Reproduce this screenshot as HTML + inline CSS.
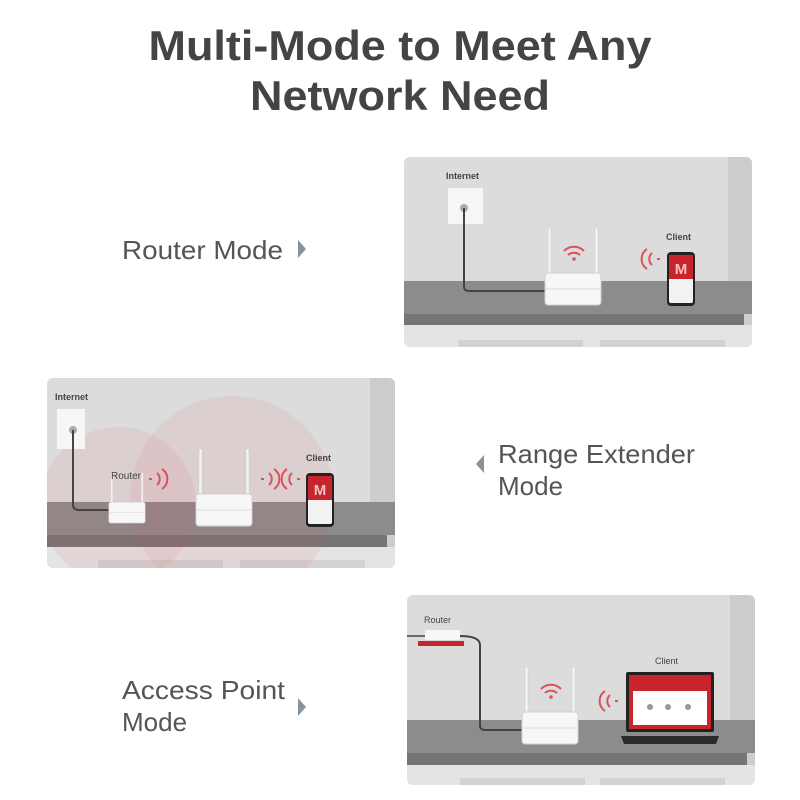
<!DOCTYPE html>
<html><head><style>
html,body{margin:0;padding:0;background:#fff;}
svg{display:block;}
text{font-family:"Liberation Sans",sans-serif;}
</style></head><body>
<svg width="800" height="800" viewBox="0 0 800 800" xmlns="http://www.w3.org/2000/svg">
<defs>
<g id="wifi">
 <path d="M-10,-3 A14,14 0 0 1 10,-3" fill="none" stroke="#d9535a" stroke-width="2"/>
 <path d="M-6,1 A9,9 0 0 1 6,1" fill="none" stroke="#d9535a" stroke-width="2"/>
 <circle cx="0" cy="5" r="1.8" fill="#d9535a"/>
</g>
<g id="waveL">
 <path d="M0,-10 A12,12 0 0 0 0,10" fill="none" stroke="#d9535a" stroke-width="2"/>
 <path d="M5,-6 A8,8 0 0 0 5,6" fill="none" stroke="#d9535a" stroke-width="2"/>
 <line x1="10" y1="0" x2="13" y2="0" stroke="#d9535a" stroke-width="2"/>
</g>
<g id="waveR">
 <path d="M0,-10 A12,12 0 0 1 0,10" fill="none" stroke="#d9535a" stroke-width="2"/>
 <path d="M-5,-6 A8,8 0 0 1 -5,6" fill="none" stroke="#d9535a" stroke-width="2"/>
 <line x1="-10" y1="0" x2="-13" y2="0" stroke="#d9535a" stroke-width="2"/>
</g>
<g id="router">
 <rect x="-25" y="-77" width="3" height="60" fill="#f4f4f4" stroke="#ccc" stroke-width="0.5"/>
 <rect x="22" y="-77" width="3" height="60" fill="#f4f4f4" stroke="#ccc" stroke-width="0.5"/>
 <rect x="-28" y="-32" width="56" height="32" rx="3" fill="#f7f7f7" stroke="#d0d0d0" stroke-width="1"/>
 <line x1="-28" y1="-16" x2="28" y2="-16" stroke="#ddd"/>
</g>
<g id="phone">
 <rect x="0" y="0" width="28" height="54" rx="4" fill="#222"/>
 <rect x="2" y="3" width="24" height="48" rx="2" fill="#f2f2f2"/>
 <rect x="2" y="3" width="24" height="24" fill="#c8242b"/>
 <text x="14" y="22" font-size="15" font-weight="bold" fill="#f5c0c0" text-anchor="middle">M</text>
</g>
</defs>

<text x="400" y="60" font-size="42" font-weight="bold" fill="#444" text-anchor="middle" textLength="503" lengthAdjust="spacingAndGlyphs">Multi-Mode to Meet Any</text>
<text x="400" y="110" font-size="42" font-weight="bold" fill="#444" text-anchor="middle" textLength="300" lengthAdjust="spacingAndGlyphs">Network Need</text>

<text x="122" y="259" font-size="26" fill="#555" textLength="161" lengthAdjust="spacingAndGlyphs">Router Mode</text>
<path d="M298,240 L306,249 L298,258 Z" fill="#8a9299"/>
<text x="498" y="463" font-size="26" fill="#555" textLength="197" lengthAdjust="spacingAndGlyphs">Range Extender</text>
<text x="498" y="495" font-size="26" fill="#555">Mode</text>
<path d="M484,455 L476,464 L484,473 Z" fill="#8a9299"/>
<text x="122" y="699" font-size="26" fill="#555" textLength="163" lengthAdjust="spacingAndGlyphs">Access Point</text>
<text x="122" y="731" font-size="26" fill="#555">Mode</text>
<path d="M298,698 L306,707 L298,716 Z" fill="#8a9299"/>

<!-- Panel 1 -->
<g>
<clipPath id="c1"><rect x="404" y="157" width="348" height="190" rx="6"/></clipPath>
<g clip-path="url(#c1)">
 <rect x="404" y="157" width="348" height="190" fill="#dcdcdc"/>
 <rect x="728" y="157" width="24" height="190" fill="#cdcdcd"/>
 <rect x="404" y="281" width="348" height="33" fill="#8c8c8c"/>
 <rect x="404" y="314" width="340" height="11" fill="#757575"/>
 <rect x="404" y="325" width="348" height="22" fill="#e4e4e4"/>
 <rect x="458" y="340" width="125" height="7" fill="#d2d2d2"/>
 <rect x="600" y="340" width="125" height="7" fill="#d2d2d2"/>
</g>
<text x="446" y="179" font-size="9" font-weight="bold" fill="#444">Internet</text>
<rect x="448" y="188" width="35" height="36" fill="#f6f6f6"/>
<circle cx="464" cy="208" r="4" fill="#aaa"/>
<path d="M464,208 L464,287 Q464,291 470,291 L545,291" fill="none" stroke="#444" stroke-width="2"/>
<use href="#router" x="573" y="305"/>
<use href="#wifi" x="574" y="254"/>
<use href="#waveL" x="647" y="259"/>
<use href="#phone" x="667" y="252"/>
<text x="666" y="240" font-size="9" font-weight="bold" fill="#444">Client</text>
</g>

<!-- Panel 2 -->
<g>
<clipPath id="c2"><rect x="47" y="378" width="348" height="190" rx="6"/></clipPath>
<g clip-path="url(#c2)">
 <rect x="47" y="378" width="348" height="190" fill="#dcdcdc"/>
 <rect x="370" y="378" width="25" height="190" fill="#cdcdcd"/>
 <rect x="47" y="502" width="348" height="33" fill="#8c8c8c"/>
 <rect x="47" y="535" width="340" height="12" fill="#757575"/>
 <rect x="47" y="547" width="348" height="21" fill="#e4e4e4"/>
 <rect x="98" y="560" width="125" height="8" fill="#d2d2d2"/>
 <rect x="240" y="560" width="125" height="8" fill="#d2d2d2"/>
 <circle cx="118" cy="505" r="78" fill="#d9535a" fill-opacity="0.09"/>
 <circle cx="232" cy="498" r="102" fill="#d9535a" fill-opacity="0.09"/>
</g>
<text x="55" y="400" font-size="9" font-weight="bold" fill="#444">Internet</text>
<rect x="57" y="409" width="28" height="40" fill="#f6f6f6"/>
<circle cx="73" cy="430" r="4" fill="#aaa"/>
<path d="M73,430 L73,505 Q73,510 80,510 L112,510" fill="none" stroke="#444" stroke-width="2"/>
<g transform="translate(127,523) scale(0.65)"><use href="#router"/></g>
<text x="111" y="479" font-size="10" fill="#444">Router</text>
<use href="#waveR" x="162" y="479"/>
<g transform="translate(224,526)"><use href="#router"/></g>
<use href="#waveR" x="274" y="479"/>
<use href="#waveL" x="287" y="479"/>
<use href="#phone" x="306" y="473"/>
<text x="306" y="461" font-size="9" font-weight="bold" fill="#444">Client</text>
</g>

<!-- Panel 3 -->
<g>
<clipPath id="c3"><rect x="407" y="595" width="348" height="190" rx="6"/></clipPath>
<g clip-path="url(#c3)">
 <rect x="407" y="595" width="348" height="190" fill="#dcdcdc"/>
 <rect x="730" y="595" width="25" height="190" fill="#cdcdcd"/>
 <rect x="407" y="720" width="348" height="33" fill="#8c8c8c"/>
 <rect x="407" y="753" width="340" height="12" fill="#757575"/>
 <rect x="407" y="765" width="348" height="20" fill="#e4e4e4"/>
 <rect x="460" y="778" width="125" height="7" fill="#d2d2d2"/>
 <rect x="600" y="778" width="125" height="7" fill="#d2d2d2"/>
</g>
<text x="424" y="623" font-size="9" fill="#444">Router</text>
<line x1="407" y1="636" x2="425" y2="636" stroke="#444" stroke-width="1.5"/>
<rect x="425" y="630" width="35" height="10" rx="2" fill="#f7f7f7"/>
<rect x="418" y="641" width="46" height="5" fill="#c8242b"/>
<path d="M460,636 Q480,636 480,645 L480,726 Q480,730 486,730 L522,730" fill="none" stroke="#444" stroke-width="2"/>
<use href="#router" x="550" y="744"/>
<use href="#wifi" x="551" y="692"/>
<use href="#waveL" x="605" y="701"/>
<rect x="626" y="672" width="88" height="60" rx="2" fill="#222"/>
<rect x="629" y="675" width="82" height="54" fill="#c8242b"/>
<rect x="633" y="691" width="74" height="34" fill="#fff"/>
<circle cx="650" cy="707" r="3" fill="#999"/><circle cx="668" cy="707" r="3" fill="#999"/><circle cx="688" cy="707" r="3" fill="#999"/>
<path d="M621,736 L719,736 L716,744 L624,744 Z" fill="#2a2a2a"/>
<text x="655" y="664" font-size="9" fill="#444">Client</text>
</g>
</svg>
</body></html>
